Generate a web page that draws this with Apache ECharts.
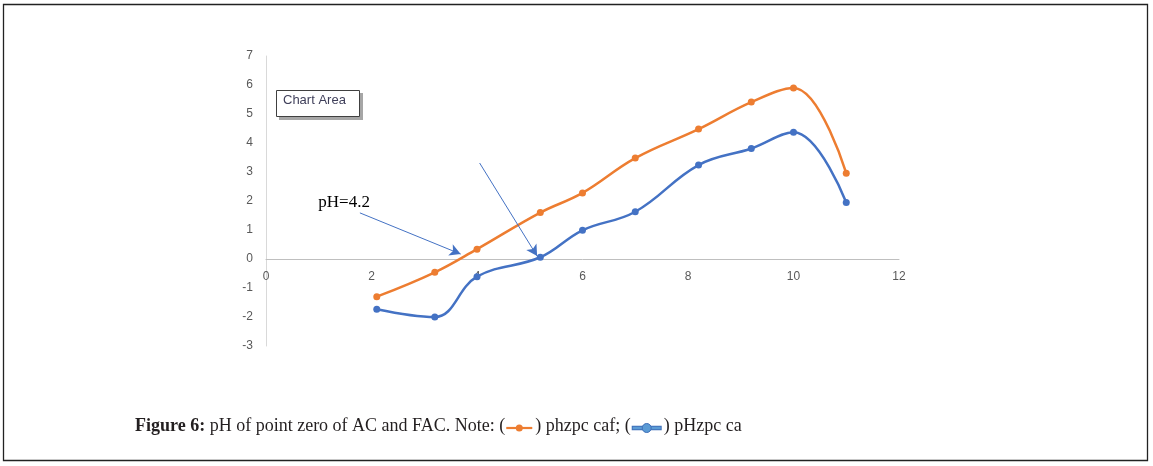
<!DOCTYPE html>
<html>
<head>
<meta charset="utf-8">
<script src="https://cdn.jsdelivr.net/npm/echarts@6/dist/echarts.min.js"></script>
<style>
html,body{margin:0;padding:0;background:#fff;}
#chart{width:1153px;height:466px;}
</style>
</head>
<body>
<div id="chart"></div>
<script>
// ---- data ----
const xValues = [2.1, 3.2, 4, 5.2, 6, 7, 8.2, 9.2, 10, 11];
const phzpcCaf = [-1.3, -0.46, 0.34, 1.6, 2.28, 3.48, 4.48, 5.41, 5.9, 2.96];
const pHzpcCa = [-1.73, -2.0, -0.61, 0.06, 0.99, 1.63, 3.24, 3.81, 4.37, 1.95];
const xAxisRange = [0, 12, 2];
const yAxisRange = [-3, 7, 1];
const annotationText = 'pH=4.2';
const annotationTextPos = [1.48, 1.93];
const arrowFrom = [[1.78, 1.59], [4.05, 3.31]];
const arrowTo = [[3.69, 0.17], [5.14, 0.1]];
const seriesNames = ['phzpc caf', 'pHzpc ca'];
const captionBold = 'Figure 6:';
const captionText = ' pH of point zero of AC and FAC. Note: (';
const captionMid = ') phzpc caf; (';
const captionEnd = ') pHzpc ca';

const ORANGE = '#ED7D31', BLUE = '#4472C4';

function pairs(xs, ys){ return xs.map((x,i)=>[x, ys[i]]); }

// grid geometry
const gridTop = 56, gridBottom = 120, chartH = 466;
const plotH = chartH - gridTop - gridBottom;
const zeroOffset = -plotH * (0 - yAxisRange[0]) / (yAxisRange[1] - yAxisRange[0]);

// caption layout
const cv = document.createElement('canvas').getContext('2d');
const capFont = '18px "Liberation Serif"';
const capFontB = 'bold 18px "Liberation Serif"';
function w(t, f){ cv.font = f; return cv.measureText(t).width; }
const capY = 433;
let cx = 135;
const cap = [];
const capTop = capY - 16;
cap.push({type:'text', left:cx, top:capTop, style:{text:captionBold, font:capFontB, fill:'#231f20'}});
cx += w(captionBold, capFontB);
cap.push({type:'text', left:cx, top:capTop, style:{text:captionText, font:capFont, fill:'#231f20'}});
cx += w(captionText, capFont);
const iconY = capY - 5;
const o0 = cx + 1, o1 = cx + 27;
cap.push({type:'line', shape:{x1:o0, y1:iconY, x2:o1, y2:iconY}, style:{stroke:ORANGE, lineWidth:2.2}});
cap.push({type:'circle', shape:{cx:(o0+o1)/2, cy:iconY, r:3.5}, style:{fill:ORANGE}});
cx = o1 + 3;
cap.push({type:'text', left:cx, top:capTop, style:{text:captionMid, font:capFont, fill:'#231f20'}});
cx += w(captionMid, capFont);
const b0 = cx + 1, b1 = cx + 31;
cap.push({type:'line', shape:{x1:b0, y1:iconY, x2:b1, y2:iconY}, style:{stroke:'#3f6fb8', lineWidth:4.5}});
cap.push({type:'line', shape:{x1:b0+1, y1:iconY, x2:b1-1, y2:iconY}, style:{stroke:'#5b9bd5', lineWidth:2.5}});
cap.push({type:'circle', shape:{cx:(b0+b1)/2, cy:iconY, r:4.5}, style:{fill:'#5b9bd5', stroke:'#3f6fb8', lineWidth:1}});
cx = b1 + 2;
cap.push({type:'text', left:cx, top:capTop, style:{text:captionEnd, font:capFont, fill:'#231f20'}});

const chart = echarts.init(document.getElementById('chart'), null, {renderer:'canvas'});
const option = {
  animation:false,
  backgroundColor:'#fff',
  grid:{left:266, right:254, top:gridTop, bottom:gridBottom, containLabel:false},
  xAxis:{
    type:'value', min:xAxisRange[0], max:xAxisRange[1], interval:xAxisRange[2],
    position:'bottom', offset:zeroOffset,
    axisLine:{show:true, onZero:false, lineStyle:{color:'#BFBFBF', width:1}},
    axisTick:{show:false},
    splitLine:{show:false},
    axisLabel:{color:'#595959', fontSize:12, fontFamily:'Liberation Sans', margin:12}
  },
  yAxis:{
    type:'value', min:yAxisRange[0], max:yAxisRange[1], interval:yAxisRange[2],
    axisLine:{show:true, onZero:false, lineStyle:{color:'#D9D9D9', width:1}},
    axisTick:{show:false},
    splitLine:{show:false},
    axisLabel:{color:'#595959', fontSize:12, fontFamily:'Liberation Sans', margin:13}
  },
  series:[
    {
      name:seriesNames[0], type:'line', smooth:0.4, data:pairs(xValues, phzpcCaf),
      symbol:'circle', symbolSize:7, lineStyle:{color:ORANGE, width:2.5}, itemStyle:{color:ORANGE},
      markLine:{
        silent:true, symbol:['none','arrow'], symbolSize:[9,11],
        lineStyle:{color:BLUE, width:1, type:'solid'}, label:{show:false},
        data: arrowFrom.map((f,i)=>[{coord:f}, {coord:arrowTo[i]}])
      },
      markPoint:{
        silent:true, symbol:'rect', symbolSize:1, itemStyle:{color:'rgba(0,0,0,0)'},
        label:{show:true, position:'inside', formatter:annotationText, color:'#000', fontSize:17, fontFamily:'Liberation Serif'},
        data:[{coord:annotationTextPos}]
      },
      z:3
    },
    {
      name:seriesNames[1], type:'line', smooth:0.4, data:pairs(xValues, pHzpcCa),
      symbol:'circle', symbolSize:7, lineStyle:{color:BLUE, width:2.5}, itemStyle:{color:BLUE},
      z:2
    }
  ],
  graphic:[
    {type:'rect', shape:{x:3.5, y:4.5, width:1144, height:456}, style:{fill:'none', stroke:'#222', lineWidth:1.3}, silent:true},
    {type:'rect', shape:{x:279, y:93, width:84, height:27}, style:{fill:'#a6a6a6'}, silent:true},
    {type:'rect', shape:{x:276.5, y:90.5, width:83, height:26}, style:{fill:'#fff', stroke:'#404040', lineWidth:1}, silent:true},
    {type:'text', left:283, top:94, style:{text:'Chart Area', font:'13px "Liberation Sans"', fill:'#3f3f5a'}, silent:true}
  ].concat(cap)
};
chart.setOption(option);
</script>
</body>
</html>
